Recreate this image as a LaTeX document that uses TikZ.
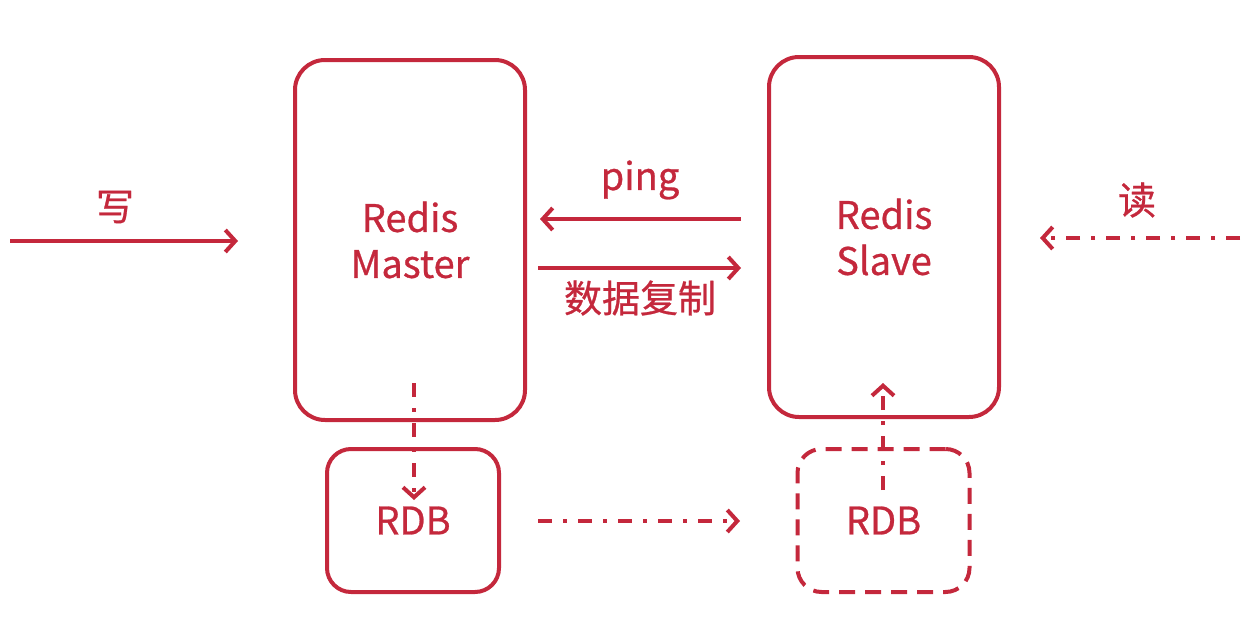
\documentclass[tikz,border=0pt]{standalone}
\usepackage{fontspec}
\setmainfont{Noto Sans CJK SC}[FakeBold=0.7]
\usetikzlibrary{arrows.meta}
\definecolor{rd}{RGB}{196,40,60}
\begin{document}
\begin{tikzpicture}[x=1pt,y=-1pt,
  box/.style={draw=rd,line width=4pt,rounded corners=30pt,minimum width=230pt,minimum height=360pt,inner sep=0pt},
  rdbbox/.style={draw=rd,line width=4pt,rounded corners=24pt,minimum width=172pt,minimum height=143pt,inner sep=0pt},
  txt/.style={text=rd,font=\fontsize{38}{46}\selectfont,align=center,inner sep=0pt},
  arr/.style={draw=rd,line width=4pt,-{Straight Barb[length=10pt,width=22pt,line width=4pt]}},
  dashdot/.style={dash pattern=on 14pt off 11pt on 4pt off 11pt},
]
\useasboundingbox (0,0) rectangle (1255,621);
\node[box] (master) at (410,240) {};
\node[box] (slave) at (884,237) {};
\node[rdbbox] (mrdb) at (413,520.5) {};
\node[rdbbox,dash pattern=on 16pt off 10pt] (srdb) at (883.5,520.5) {};
\node[txt] (mt) at (410,240) {Redis\\Master};
\node[txt] (st) at (884,237) {Redis\\Slave};
\node[txt] at (mrdb.center) (mrdbt) {RDB};
\node[txt] at (srdb.center) (srdbt) {RDB};
\node[txt] (write) at (115,207) {写};
\node[txt] (read) at (1137,200) {读};
\node[txt] (ping) at (640,180) {ping};
\node[txt] (copy) at (640,298) {数据复制};
\coordinate (w0) at (10,241);
\coordinate (w1) at (238,241);
\draw[arr] (w0) -- (w1);
\coordinate (p0) at (741,219);
\coordinate (p1) at (540,219);
\draw[arr] (p0) -- (p1);
\coordinate (c0) at (538,268);
\coordinate (c1) at (741,268);
\draw[arr] (c0) -- (c1);
\coordinate (r0) at (1240,238);
\coordinate (r1) at (1040,238);
\draw[arr,dashdot] (r0) -- (r1);
\coordinate (m0) at (414,383);
\coordinate (m1) at (414,500);
\draw[arr,dashdot] (m0) -- (m1);
\coordinate (s0) at (883,490);
\coordinate (s1) at (883,383);
\draw[arr,dashdot] (s0) -- (s1);
\coordinate (d0) at (538,521);
\coordinate (d1) at (740,521);
\draw[arr,dashdot] (d0) -- (d1);
\end{tikzpicture}
\end{document}
